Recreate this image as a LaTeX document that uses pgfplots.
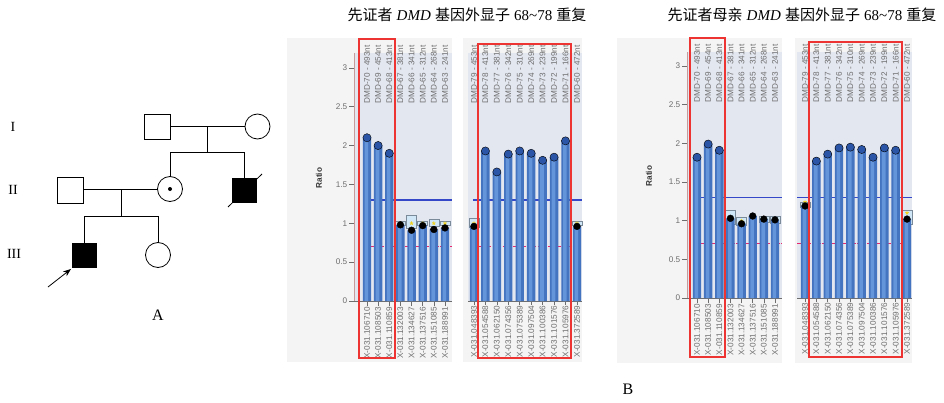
\documentclass[border=0pt]{standalone}
\usepackage{pgfplots}
\pgfplotsset{compat=1.18}
\usepackage{pgfplotstable}
\usepackage{fontspec}
\setmainfont{Liberation Sans}
\newfontfamily\cjk{Noto Sans CJK SC}
\newfontfamily\serif{Liberation Serif}
\usetikzlibrary{arrows.meta}

\definecolor{framebg}{HTML}{F4F4F5}
\definecolor{plotbg}{HTML}{E3E7F0}
\definecolor{barA}{HTML}{4473C0}
\definecolor{barB}{HTML}{6494DA}
\definecolor{capC}{HTML}{2B55A6}
\definecolor{lineB}{HTML}{3347C8}
\definecolor{lineR}{HTML}{E8286E}
\definecolor{boxF}{HTML}{CFE7F6}
\definecolor{boxD}{HTML}{7A8A99}
\definecolor{txt}{HTML}{6E6E6E}
\definecolor{redbox}{HTML}{EE3333}
\definecolor{axred}{HTML}{C89A9A}
\definecolor{starY}{HTML}{F2D21B}

\newcommand\lab{\fontsize{8.2bp}{9bp}\selectfont}

\pgfplotstableread{
i v
0 2.10
1 2.00
2 1.90
3 0.98
4 0.91
5 0.97
6 0.92
7 0.94
}\Pa
\pgfplotstableread{
i v
0 0.96
1 1.93
2 1.66
3 1.89
4 1.93
5 1.90
6 1.81
7 1.85
8 2.06
9 0.96
}\Pb
\pgfplotstableread{
i v
0 1.82
1 1.99
2 1.91
3 1.03
4 0.96
5 1.06
6 1.02
7 1.01
}\Ma
\pgfplotstableread{
i v
0 1.19
1 1.77
2 1.86
3 1.94
4 1.95
5 1.92
6 1.82
7 1.94
8 1.91
9 1.02
}\Mb

\pgfplotsset{
  topA/.style={xtick={0,...,7},xticklabels={DMD-70 - 493nt,DMD-69 - 454nt,DMD-68 - 413nt,DMD-67 - 381nt,DMD-66 - 341nt,DMD-65 - 312nt,DMD-64 - 268nt,DMD-63 - 241nt}},
  botA/.style={xtick={0,...,7},xticklabels={X-031.106710,X-031.108503,X-031.110859,X-031.132003,X-031.134627,X-031.137516,X-031.151085,X-031.188991}},
  topB/.style={xtick={0,...,9},xticklabels={DMD-79 - 453nt,DMD-78 - 413nt,DMD-77 - 381nt,DMD-76 - 342nt,DMD-75 - 310nt,DMD-74 - 269nt,DMD-73 - 239nt,DMD-72 - 199nt,DMD-71 - 166nt,DMD-60 - 472nt}},
  botB/.style={xtick={0,...,9},xticklabels={X-031.048393,X-031.054588,X-031.062150,X-031.074356,X-031.075389,X-031.097504,X-031.100386,X-031.101576,X-031.105976,X-031.372589}},
  bgaxis/.style={scale only axis, anchor=south west, ymin=0,
    axis background/.style={fill=plotbg}, axis line style={draw=none},
    ytick=\empty, xticklabel pos=upper, major tick length=0pt,
    xticklabel style={rotate=90, anchor=east, font=\lab, text=txt, inner sep=0pt},
    xticklabel shift=8bp, clip=false},
  fgaxis/.style={scale only axis, anchor=south west, ymin=0,
    axis x line*=bottom, x axis line style={draw=txt, line width=0.6bp},
    xtick style={draw=txt, line width=0.5bp}, tick align=outside, major tick length=3.5bp,
    xticklabel style={rotate=90, anchor=east, font=\lab, text=txt, inner sep=1pt},
    clip=false},
  yleft/.style={axis y line*=left, y axis line style={draw=axred, line width=0.6bp},
    ytick={0,0.5,1,1.5,2,2.5,3}, yticklabels={0,0.5,1,1.5,2,2.5,3},
    ytick style={draw=txt, line width=0.5bp}, major tick length=5bp,
    yticklabel style={font=\lab, text=txt, inner sep=1.5bp}},
  ynone/.style={axis y line=none, ytick=\empty},
  bA/.style={ybar, bar width=8.4bp, bar shift=0pt, fill=barA, draw=none},
  bB/.style={ybar, bar width=3.6bp, bar shift=-0.6bp, fill=barB, draw=none},
  cap/.style={only marks, mark=*, mark size=4.1bp, mark options={fill=capC, draw=none}},
  dot/.style={only marks, mark=*, mark size=3.4bp, mark options={fill=black, draw=none}},
  pbox/.style={fill=boxF, draw=boxD, line width=0.6bp},
  ystar/.style={only marks, mark=star, mark size=1.8bp, mark options={draw=starY, line width=0.8bp}},
  hlB/.style={draw=lineB, line width=1.4bp},
  hlR/.style={draw=lineR, line width=1.2bp, dash pattern=on 3.5bp off 1.5bp},
}

\begin{document}
\begin{tikzpicture}
\path[use as bounding box] (0,0) rectangle (944bp,-403bp);

% frames of the screenshots
\fill[framebg] (287bp,-38bp) rectangle (452bp,-362bp);
\fill[framebg] (463bp,-38bp) rectangle (582bp,-362bp);
\fill[framebg] (617bp,-38bp) rectangle (782bp,-363bp);
\fill[framebg] (795bp,-38bp) rectangle (912bp,-363bp);

% ===== Patient, panel 1 =====
\begin{axis}[bgaxis, topA, at={(354bp,-301bp)}, width=98bp, height=248bp,
  xmin=-1.167, xmax=7.63, ymax=3.19]
\addplot[hlB] coordinates {(0.27,1.3) (7.63,1.3)};
\addplot[hlR] coordinates {(0.27,0.7) (7.63,0.7)};
\addplot[pbox] coordinates {(2.55,0.97) (3.45,0.97) (3.45,1.02) (2.55,1.02)} -- cycle;
\addplot[pbox] coordinates {(3.55,0.94) (4.45,0.94) (4.45,1.10) (3.55,1.10)} -- cycle;
\addplot[pbox] coordinates {(4.55,0.97) (5.45,0.97) (5.45,1.02) (4.55,1.02)} -- cycle;
\addplot[pbox] coordinates {(5.55,0.96) (6.45,0.96) (6.45,1.05) (5.55,1.05)} -- cycle;
\addplot[pbox] coordinates {(6.55,0.97) (7.45,0.97) (7.45,1.02) (6.55,1.02)} -- cycle;
\addplot[ystar] coordinates {(3,1) (4,1) (5,1) (6,1) (7,1)};
\end{axis}
\begin{axis}[fgaxis, botA, yleft, at={(354bp,-301bp)}, width=98bp, height=248bp,
  xmin=-1.167, xmax=7.63, ymax=3.19]
\addplot[bA] table[x=i,y=v]{\Pa};
\addplot[bB] table[x=i,y=v]{\Pa};
\addplot[cap, restrict x to domain=0:2] table[x=i,y=v]{\Pa};
\addplot[dot, restrict x to domain=3:7] table[x=i,y=v]{\Pa};
\end{axis}

% ===== Patient, panel 2 =====
\begin{axis}[bgaxis, topB, at={(468bp,-301bp)}, width=114bp, height=248bp,
  xmin=-0.52, xmax=9.44, ymax=3.19]
\addplot[hlB] coordinates {(-0.1,1.3) (9.44,1.3)};
\addplot[hlR] coordinates {(-0.1,0.7) (9.44,0.7)};
\addplot[pbox] coordinates {(-0.45,0.95) (0.45,0.95) (0.45,1.06) (-0.45,1.06)} -- cycle;
\addplot[pbox] coordinates {(8.55,0.97) (9.45,0.97) (9.45,1.02) (8.55,1.02)} -- cycle;
\addplot[ystar] coordinates {(0,1) (9,1)};
\end{axis}
\begin{axis}[fgaxis, botB, ynone, at={(468bp,-301bp)}, width=114bp, height=248bp,
  xmin=-0.52, xmax=9.44, ymax=3.19]
\addplot[bA] table[x=i,y=v]{\Pb};
\addplot[bB] table[x=i,y=v]{\Pb};
\addplot[cap, restrict x to domain=1:8] table[x=i,y=v]{\Pb};
\addplot[dot, restrict x to domain=0:0] table[x=i,y=v]{\Pb};
\addplot[dot, restrict x to domain=9:9] table[x=i,y=v]{\Pb};
\end{axis}

% ===== Mother, panel 1 =====
\begin{axis}[bgaxis, topA, at={(687bp,-298bp)}, width=95bp, height=246bp,
  xmin=-0.9, xmax=7.63, ymax=3.18]
\addplot[hlB] coordinates {(0.36,1.3) (7.63,1.3)};
\addplot[hlR] coordinates {(0.36,0.7) (7.63,0.7)};
\addplot[pbox] coordinates {(2.55,0.95) (3.45,0.95) (3.45,1.13) (2.55,1.13)} -- cycle;
\addplot[pbox] coordinates {(3.55,0.94) (4.45,0.94) (4.45,1.04) (3.55,1.04)} -- cycle;
\addplot[pbox] coordinates {(5.55,0.98) (6.45,0.98) (6.45,1.05) (5.55,1.05)} -- cycle;
\addplot[pbox] coordinates {(6.55,0.97) (7.45,0.97) (7.45,1.05) (6.55,1.05)} -- cycle;
\addplot[ystar] coordinates {(3,1) (4,1) (6,1) (7,1)};
\end{axis}
\begin{axis}[fgaxis, botA, yleft, at={(687bp,-298bp)}, width=95bp, height=246bp,
  xmin=-0.9, xmax=7.63, ymax=3.18]
\addplot[bA] table[x=i,y=v]{\Ma};
\addplot[bB] table[x=i,y=v]{\Ma};
\addplot[cap, restrict x to domain=0:2] table[x=i,y=v]{\Ma};
\addplot[dot, restrict x to domain=3:7] table[x=i,y=v]{\Ma};
\end{axis}

% ===== Mother, panel 2 =====
\begin{axis}[bgaxis, topB, at={(797bp,-298bp)}, width=115bp, height=246bp,
  xmin=-0.71, xmax=9.44, ymax=3.18]
\addplot[hlB] coordinates {(-0.71,1.3) (9.44,1.3)};
\addplot[hlR] coordinates {(-0.71,0.7) (9.44,0.7)};
\addplot[pbox] coordinates {(-0.45,1.17) (0.45,1.17) (0.45,1.24) (-0.45,1.24)} -- cycle;
\addplot[pbox] coordinates {(8.55,0.95) (9.45,0.95) (9.45,1.14) (8.55,1.14)} -- cycle;
\addplot[ystar] coordinates {(0,1.24) (9,1.1)};
\end{axis}
\begin{axis}[fgaxis, botB, ynone, at={(797bp,-298bp)}, width=115bp, height=246bp,
  xmin=-0.71, xmax=9.44, ymax=3.18]
\addplot[bA] table[x=i,y=v]{\Mb};
\addplot[bB] table[x=i,y=v]{\Mb};
\addplot[cap, restrict x to domain=1:8] table[x=i,y=v]{\Mb};
\addplot[dot, restrict x to domain=0:0] table[x=i,y=v]{\Mb};
\addplot[dot, restrict x to domain=9:9] table[x=i,y=v]{\Mb};
\end{axis}

% red highlight boxes
\begin{scope}[redbox, line width=1.3bp]
\draw (359bp,-39bp) rectangle (395bp,-358bp);
\draw (478bp,-44bp) rectangle (571bp,-358bp);
\draw (690bp,-38bp) rectangle (725bp,-357bp);
\draw (809bp,-42bp) rectangle (902bp,-357bp);
\end{scope}

% Ratio labels
\node[rotate=90, font=\fontsize{8.2bp}{9bp}\selectfont\bfseries, text=black!80] at (319bp,-178bp) {Ratio};
\node[rotate=90, font=\fontsize{8.2bp}{9bp}\selectfont\bfseries, text=black!80] at (649bp,-176bp) {Ratio};

% titles
\node[font=\fontsize{15bp}{17bp}\selectfont, inner sep=0pt] at (467bp,-15bp)
  {{\cjk 先证者} {\serif\itshape DMD} {\cjk 基因外显子} {\serif 68\char"7E 78} {\cjk 重复}};
\node[font=\fontsize{15bp}{17bp}\selectfont, inner sep=0pt] at (802bp,-15bp)
  {{\cjk 先证者母亲} {\serif\itshape DMD} {\cjk 基因外显子} {\serif 68\char"7E 78} {\cjk 重复}};

% panel letters
\node[font=\fontsize{16bp}{18bp}\selectfont\serif] at (158bp,-315bp) {A};
\node[font=\fontsize{16bp}{18bp}\selectfont\serif] at (628bp,-389bp) {B};

% pedigree
\begin{scope}[x=1bp, y=-1bp, line width=0.8bp]
\node[font=\fontsize{14bp}{16bp}\selectfont\serif] at (13,127) {I};
\node[font=\fontsize{14bp}{16bp}\selectfont\serif] at (13,190) {II};
\node[font=\fontsize{14bp}{16bp}\selectfont\serif] at (14,254) {III};
% generation I
\draw (144,114) rectangle (170,139);
\draw (257.5,126.5) circle[radius=12.5bp];
\draw (170,126) -- (245,126);
\draw (207,126) -- (207,152);
\draw (170,152) -- (244.5,152);
\draw (170,152) -- (170,176.5);
\draw (244.5,152) -- (244.5,178);
% generation II
\draw (57,177) rectangle (83,203);
\draw (170,189) circle[radius=12.5bp];
\fill (170,189) circle[radius=2bp];
\fill (232,178) rectangle (257,203);
\draw (228,207) -- (262,174);
\draw (83,189) -- (157.5,189);
\draw (121,189) -- (121,216);
\draw (84.5,216) -- (158,216);
\draw (84.5,216) -- (84.5,243);
\draw (158,216) -- (158,242.5);
% generation III
\fill (72,243) rectangle (97,268);
\draw (158,255) circle[radius=12.5bp];
\draw[-{Stealth[length=8bp,width=6bp]}] (48,287) -- (71,269);
\end{scope}
\end{tikzpicture}
\end{document}
